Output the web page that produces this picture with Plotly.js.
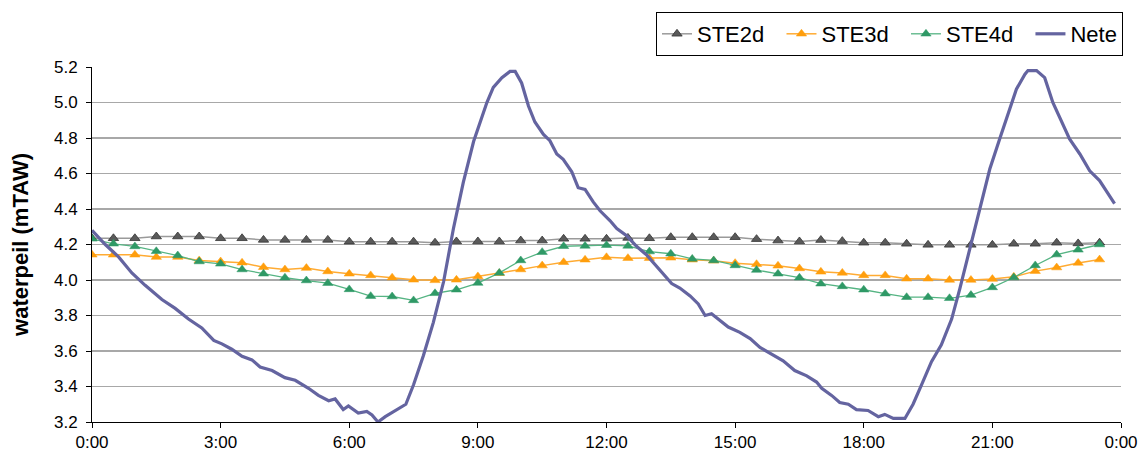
<!DOCTYPE html>
<html>
<head>
<meta charset="utf-8">
<script src="https://cdn.plot.ly/plotly-3.0.1.min.js"></script>
<style>
  html, body { margin: 0; padding: 0; background: #ffffff; }
  #chart { width: 1145px; height: 459px; }
</style>
</head>
<body>
<div id="chart"></div>
<script>
// ---- Data (hours since 0:00) ----
const steTimes = [0, 0.5, 1, 1.5, 2, 2.5, 3, 3.5, 4, 4.5, 5, 5.5, 6, 6.5, 7, 7.5,
  8, 8.5, 9, 9.5, 10, 10.5, 11, 11.5, 12, 12.5, 13, 13.5, 14, 14.5, 15, 15.5,
  16, 16.5, 17, 17.5, 18, 18.5, 19, 19.5, 20, 20.5, 21, 21.5, 22, 22.5, 23, 23.5];

const ste2d = [4.235, 4.235, 4.235, 4.245, 4.245, 4.245, 4.235, 4.235, 4.226, 4.226, 4.226, 4.226, 4.216, 4.216, 4.216, 4.216,
  4.210, 4.217, 4.217, 4.217, 4.222, 4.222, 4.232, 4.232, 4.232, 4.237, 4.235, 4.241, 4.241, 4.241, 4.241, 4.230,
  4.222, 4.217, 4.225, 4.219, 4.210, 4.210, 4.204, 4.198, 4.198, 4.198, 4.198, 4.204, 4.204, 4.210, 4.206, 4.210];

const ste3d = [4.142, 4.142, 4.142, 4.129, 4.129, 4.110, 4.104, 4.097, 4.072, 4.059, 4.067, 4.048, 4.035, 4.026, 4.013, 4.001,
  3.998, 4.001, 4.020, 4.038, 4.059, 4.081, 4.100, 4.114, 4.128, 4.123, 4.123, 4.125, 4.114, 4.108, 4.095, 4.089,
  4.080, 4.065, 4.046, 4.040, 4.026, 4.026, 4.007, 4.007, 4.000, 4.000, 4.005, 4.018, 4.050, 4.070, 4.096, 4.115];

const ste4d = [4.232, 4.204, 4.189, 4.162, 4.138, 4.104, 4.091, 4.059, 4.035, 4.013, 3.997, 3.982, 3.947, 3.909, 3.907, 3.885,
  3.925, 3.945, 3.983, 4.040, 4.110, 4.157, 4.190, 4.192, 4.196, 4.192, 4.160, 4.148, 4.119, 4.110, 4.082, 4.056,
  4.035, 4.013, 3.979, 3.964, 3.945, 3.923, 3.903, 3.903, 3.897, 3.915, 3.958, 4.014, 4.082, 4.143, 4.170, 4.200];

const neteTimes = [0.00, 0.31, 0.62, 0.93, 1.24, 1.63, 1.94, 2.25, 2.56, 2.84, 3.03, 3.26, 3.50, 3.73, 3.92, 4.20,
  4.50, 4.74, 5.05, 5.28, 5.52, 5.67, 5.86, 5.98, 6.21, 6.41, 6.53, 6.67, 6.84, 7.05, 7.32, 7.50,
  7.73, 7.96, 8.20, 8.43, 8.66, 8.90, 9.05, 9.21, 9.36, 9.56, 9.75, 9.87, 10.02, 10.18, 10.33, 10.53,
  10.68, 10.84, 10.99, 11.19, 11.34, 11.50, 11.69, 11.85, 12.08, 12.24, 12.47, 12.70, 12.94, 13.25, 13.52, 13.71,
  13.95, 14.14, 14.30, 14.45, 14.65, 14.84, 15.11, 15.35, 15.58, 15.85, 16.12, 16.39, 16.67, 16.90, 17.02, 17.25,
  17.44, 17.64, 17.83, 18.10, 18.34, 18.49, 18.69, 18.96, 19.15, 19.35, 19.58, 19.81, 20.05, 20.24, 20.47, 20.71,
  20.94, 21.17, 21.37, 21.56, 21.76, 21.83, 22.03, 22.22, 22.41, 22.61, 22.80, 23.04, 23.27, 23.50, 23.70, 23.85];

const nete = [4.28, 4.20, 4.13, 4.04, 3.97, 3.89, 3.84, 3.78, 3.73, 3.66, 3.64, 3.61, 3.57, 3.55, 3.51, 3.49,
  3.45, 3.435, 3.39, 3.35, 3.32, 3.33, 3.27, 3.29, 3.25, 3.26, 3.24, 3.20, 3.23, 3.26, 3.30, 3.41,
  3.575, 3.76, 3.99, 4.29, 4.55, 4.78, 4.89, 5.00, 5.085, 5.14, 5.175, 5.175, 5.11, 4.98, 4.89, 4.82,
  4.785, 4.71, 4.68, 4.61, 4.52, 4.51, 4.44, 4.39, 4.335, 4.29, 4.25, 4.19, 4.14, 4.055, 3.98, 3.955,
  3.91, 3.865, 3.80, 3.81, 3.77, 3.735, 3.705, 3.67, 3.62, 3.585, 3.545, 3.49, 3.46, 3.425, 3.39, 3.35,
  3.31, 3.30, 3.27, 3.265, 3.23, 3.243, 3.22, 3.22, 3.30, 3.41, 3.54, 3.635, 3.78, 3.95, 4.175, 4.40,
  4.625, 4.795, 4.945, 5.075, 5.16, 5.18, 5.18, 5.14, 5.00, 4.90, 4.795, 4.71, 4.615, 4.56, 4.485, 4.43];

const xTickVals = [0, 3, 6, 9, 12, 15, 18, 21, 24];
const xTickText = ["0:00", "3:00", "6:00", "9:00", "12:00", "15:00", "18:00", "21:00", "0:00"];
const seriesNames = ["STE2d", "STE3d", "STE4d", "Nete"];

// ---- Chart ----
const FONT = "Liberation Sans, Arial, sans-serif";
const PAD = "\u00a0\u00a0"; // visual spacing between legend entries

const traces = [
  {
    x: steTimes, y: ste2d, name: seriesNames[0] + PAD, type: "scatter", mode: "lines+markers",
    line: { color: "#9a9a9a", width: 1.5 },
    marker: { symbol: "triangle-up", size: 9, color: "#5a5a5a", line: { color: "#333333", width: 0.8 } }
  },
  {
    x: steTimes, y: ste3d, name: seriesNames[1] + PAD, type: "scatter", mode: "lines+markers",
    line: { color: "#ffab33", width: 1.5 },
    marker: { symbol: "triangle-up", size: 9, color: "#ff9e0d", line: { color: "#ff9e0d", width: 0.5 } }
  },
  {
    x: steTimes, y: ste4d, name: seriesNames[2] + PAD, type: "scatter", mode: "lines+markers",
    line: { color: "#55b483", width: 1.3 },
    marker: { symbol: "triangle-up", size: 9, color: "#2f9966", line: { color: "#2f9966", width: 0.5 } }
  },
  {
    x: neteTimes, y: nete, name: seriesNames[3], type: "scatter", mode: "lines",
    line: { color: "#6464a0", width: 3.2 }
  }
];

const layout = {
  width: 1145, height: 459,
  margin: { l: 92, r: 24, t: 67, b: 37 },
  paper_bgcolor: "#ffffff", plot_bgcolor: "#ffffff",
  font: { family: FONT, color: "#000000", size: 17 },
  showlegend: true,
  legend: {
    orientation: "h",
    xref: "container", yref: "container",
    x: 1123 / 1145, xanchor: "right",
    y: 1 - 12 / 459, yanchor: "top",
    bgcolor: "#ffffff", bordercolor: "#000000", borderwidth: 1,
    font: { family: FONT, size: 22, color: "#000000" },
    itemwidth: 30, traceorder: "normal"
  },
  xaxis: {
    range: [0, 24], tickmode: "array", tickvals: xTickVals, ticktext: xTickText,
    ticks: "outside", ticklen: 5, tickwidth: 1, tickcolor: "#000000",
    showline: true, linecolor: "#000000", linewidth: 1,
    showgrid: false, zeroline: false,
    tickfont: { family: FONT, size: 17, color: "#000000" }
  },
  yaxis: {
    range: [3.2, 5.2], tick0: 3.2, dtick: 0.2, tickformat: ".1f",
    ticks: "outside", ticklen: 5, tickwidth: 1, tickcolor: "#000000",
    showline: true, linecolor: "#000000", linewidth: 1,
    showgrid: true, gridcolor: "#a8a8a8", gridwidth: 1.2, zeroline: false,
    tickfont: { family: FONT, size: 17, color: "#000000" },
    ticklabelstandoff: 5,
    title: { text: "<b>waterpeil (mTAW)</b>", font: { family: FONT, size: 22, color: "#000000" }, standoff: 19 }
  },
  hovermode: false
};

Plotly.newPlot("chart", traces, layout, { displayModeBar: false, staticPlot: true });
</script>
</body>
</html>
